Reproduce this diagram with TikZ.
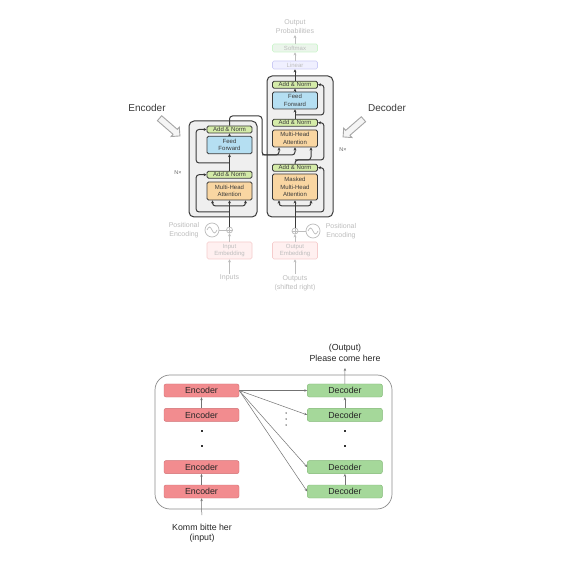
\documentclass[tikz,border=0pt]{standalone}
\usepackage{fontspec}
\setmainfont{Liberation Sans}
\usetikzlibrary{arrows.meta}
\usetikzlibrary{positioning}
\usetikzlibrary{shapes.arrows}

\definecolor{wire}{HTML}{3A3A3A}
\definecolor{normfill}{HTML}{D4EBA8}
\definecolor{fffill}{HTML}{B5DFF2}
\definecolor{attfill}{HTML}{F9D6A2}
\definecolor{blockfill}{HTML}{EFEFEF}
\definecolor{faded}{HTML}{BDBDBD}
\definecolor{encfill}{HTML}{F28C8F}
\definecolor{encline}{HTML}{D06E72}
\definecolor{decfill}{HTML}{A5D89A}
\definecolor{decline}{HTML}{7FB873}

\tikzset{
  sub/.style={draw=wire, line width=0.8pt, rounded corners=1.5pt, minimum width=45pt, inner sep=0pt, align=center, font=\fontsize{6}{7.5}\selectfont, text=wire},
  norm/.style={sub, fill=normfill, minimum height=7pt},
  ff/.style={sub, fill=fffill, minimum height=17.5pt},
  att/.style={sub, fill=attfill, minimum height=18pt},
  pale/.style={draw=#1!80!black!20, line width=0.7pt, rounded corners=1.5pt, minimum width=45pt, inner sep=0pt, align=center, font=\fontsize{6}{7.5}\selectfont, text=faded},
  wire/.style={draw=wire, line width=1pt, rounded corners=3pt, -{Stealth[length=3pt,width=3pt]}},
  fadedwire/.style={draw=faded, line width=0.7pt, -{Stealth[length=3pt,width=3pt]}},
  fadedtxt/.style={text=faded, align=center, font=\fontsize{7}{9}\selectfont, inner sep=1pt},
  block/.style={draw=wire, line width=1pt, fill=blockfill, rounded corners=5pt},
  hollow/.style={single arrow, draw=black!35, fill=black!4, line width=0.9pt, minimum height=27pt, inner sep=2.8pt, single arrow head extend=3pt},
  enc/.style={draw=encline, fill=encfill, rounded corners=2pt, minimum width=75pt, minimum height=13pt, inner sep=0pt, font=\fontsize{8.8}{10}\selectfont, text=black!85},
  dec/.style={enc, draw=decline, fill=decfill},
  arr/.style={draw=black!55, line width=0.5pt, -{Stealth[length=3pt,width=2.4pt]}},
  sq/.style={fill=black!80, minimum size=2.2pt, inner sep=0pt},
  dot/.style={circle, fill=black!70, minimum size=1.5pt, inner sep=0pt},
  lbl/.style={align=center, font=\fontsize{8.8}{10.5}\selectfont, text=black!85}
}

\begin{document}
\begin{tikzpicture}[x=1pt, y=-1pt, node distance=3pt]
    \fill[white] (0,0) rectangle (587,564);
    \useasboundingbox (0,0) rectangle (587,564);

    \draw[block] (189,121) rectangle (257,217);
    \draw[block] (267,76) rectangle (333,217);

    \node[att] (emha) at (229.5,191) {Multi-Head\\Attention};
    \node[norm, above=3pt of emha] (ean1) {Add \& Norm};
    \node[ff] (eff) at (229.5,145) {Feed\\Forward};
    \node[norm, above=2.5pt of eff] (ean2) {Add \& Norm};

    \node[att, minimum height=26pt] (dmmha) at (295,187) {Masked\\Multi-Head\\Attention};
    \node[norm, above=2pt of dmmha] (dan1) {Add \& Norm};
    \node[att, minimum height=17pt] (dmha) at (295,138.5) {Multi-Head\\Attention};
    \node[norm, above=3pt of dmha] (dan2) {Add \& Norm};
    \node[ff, minimum height=17pt] (dff) at (295,100.5) {Feed\\Forward};
    \node[norm, above=3pt of dff] (dan3) {Add \& Norm};
    \node[pale=blue, fill=blue!6, minimum height=8pt] (lin) at (295,65) {Linear};
    \node[pale=green, fill=green!50!black!8, minimum height=8pt] (soft) at (295,48) {Softmax};
    \node[fadedtxt] (prob) at (295,27) {Output\\Probabilities};

    \node[text=black!60, font=\fontsize{5.5}{6}\selectfont] (enx) at (178,173) {N×};
    \node[text=black!60, font=\fontsize{5.5}{6}\selectfont] (dnx) at (343,150) {N×};

    \node[text=wire, font=\fontsize{10}{12}\selectfont] (enclab) at (147,108) {Encoder};
    \node[text=wire, font=\fontsize{10}{12}\selectfont] (declab) at (387,108) {Decoder};
    \node[hollow, rotate=-41] (earr) at (168.5,126) {};
    \node[hollow, rotate=-139] (darr) at (354.5,127) {};

    \node[pale=red, fill=red!6, minimum height=17pt] (einp) at (229.5,250.5) {Input\\Embedding};
    \node[pale=red, fill=red!6, minimum height=17pt] (dinp) at (295,250.5) {Output\\Embedding};
    \node[fadedtxt] (inputs) at (229.5,278) {Inputs};
    \node[fadedtxt] (outputs) at (295,283) {Outputs\\(shifted right)};
    \node[circle, draw=faded, line width=0.7pt, minimum size=6pt, inner sep=0pt] (eadd) at (229.5,230) {};
    \node[circle, draw=faded, line width=0.7pt, minimum size=6pt, inner sep=0pt] (dadd) at (295,231) {};
    \node[circle, draw=faded, line width=0.7pt, minimum size=14pt, inner sep=0pt] (epos) at (212,230) {};
    \node[circle, draw=faded, line width=0.7pt, minimum size=14pt, inner sep=0pt] (dpos) at (313,231) {};
    \node[fadedtxt] (eposlab) at (184,230) {Positional\\Encoding};
    \node[fadedtxt] (dposlab) at (341,231) {Positional\\Encoding};
    \draw[faded, line width=0.7pt] (eadd.north) -- (eadd.south) (eadd.west) -- (eadd.east);
    \draw[faded, line width=0.7pt] (dadd.north) -- (dadd.south) (dadd.west) -- (dadd.east);
    \draw[faded, line width=0.7pt] ([xshift=-5pt]epos.center) sin ++(2.5pt,3pt) cos ++(2.5pt,-3pt) sin ++(2.5pt,-3pt) cos ++(2.5pt,3pt);
    \draw[faded, line width=0.7pt] ([xshift=-5pt]dpos.center) sin ++(2.5pt,3pt) cos ++(2.5pt,-3pt) sin ++(2.5pt,-3pt) cos ++(2.5pt,3pt);
    \draw[faded, line width=0.7pt] (epos) -- (eadd);
    \draw[faded, line width=0.7pt] (dpos) -- (dadd);
    \draw[fadedwire] (inputs) -- (einp);
    \draw[fadedwire] (outputs) -- (dinp);
    \draw[fadedwire] (einp) -- (eadd);
    \draw[fadedwire] (dinp) -- (dadd);
    \draw[fadedwire] (lin) -- (soft);
    \draw[fadedwire] (soft) -- (prob);

    \coordinate (eb1) at (229.5,212);
    \coordinate (eb2) at (229.5,206);
    \coordinate (eb3) at (229.5,163);
    \coordinate (ec1) at (262,116);
    \coordinate (ec2) at (262,155);
    \draw[wire] (eadd) -- (emha);
    \draw[wire] (eb2) -| ([xshift=-17pt]emha.south);
    \draw[wire] (eb2) -| ([xshift=16pt]emha.south);
    \draw[wire] (eb1) -| ([xshift=-10.5pt]ean1.west) -- (ean1.west);
    \draw[wire] (ean1) -- (eff);
    \draw[wire] (eb3) -| ([xshift=-10.5pt]ean2.west) -- (ean2.west);
    \draw[wire] (eff) -- (ean2);
    \draw[wire] (ean2.north) |- (ec1) -- (ec2) -| ([xshift=-16pt]dmha.south);
    \draw[wire] (ec2) -| (dmha.south);

    \coordinate (db1) at (295,212);
    \coordinate (db2) at (295,206);
    \coordinate (db3) at (295,160);
    \coordinate (db4) at (295,115);
    \draw[wire] (dadd) -- (dmmha);
    \draw[wire] (db2) -| ([xshift=-16pt]dmmha.south);
    \draw[wire] (db2) -| ([xshift=16pt]dmmha.south);
    \draw[wire] (db1) -| ([xshift=6pt]dan1.east) -- (dan1.east);
    \draw[wire] (dan1.north) -- (db3) -| ([xshift=16pt]dmha.south);
    \draw[wire] (db3) -| ([xshift=6pt]dan2.east) -- (dan2.east);
    \draw[wire] (dan2) -- (dff);
    \draw[wire] (db4) -| ([xshift=6pt]dan3.east) -- (dan3.east);
    \draw[wire] (dff) -- (dan3);
    \draw[wire] (dan3) -- (lin);

    \draw[draw=black!45, line width=0.7pt, rounded corners=15pt] (155,375) rectangle (392,509);
    \node[enc] (e1) at (201.5,390.5) {Encoder};
    \node[enc, below=11pt of e1] (e2) {Encoder};
    \node[enc] (e4) at (201.5,491.5) {Encoder};
    \node[enc, above=11pt of e4] (e3) {Encoder};
    \node[dec, right=68pt of e1] (d1) {Decoder};
    \node[dec, right=68pt of e2] (d2) {Decoder};
    \node[dec, right=68pt of e3] (d3) {Decoder};
    \node[dec, right=68pt of e4] (d4) {Decoder};
    \node[sq] (es1) at (202,431) {};
    \node[sq] (es2) at (202,446) {};
    \node[sq] (ds1) at (345,431) {};
    \node[sq] (ds2) at (345,446) {};
    \node[dot] (m1) at (286,413) {};
    \node[dot] (m2) at (286,419) {};
    \node[dot] (m3) at (286,425) {};
    \node[lbl] (inp) at (202,533) {Komm bitte her\\(input)};
    \node[lbl] (outp) at (345,353) {(Output)\\Please come here};

    \draw[arr] (e2) -- (e1);
    \draw[arr] (e4) -- (e3);
    \draw[arr] (d2) -- (d1);
    \draw[arr] (d4) -- (d3);
    \foreach \d in {d1,d2,d3,d4}
        \draw[arr] (e1.east) -- (\d.west);
    \draw[arr, shorten <=5pt] (inp) -- (e4);
    \draw[arr, shorten >=3pt] (d1) -- (outp);
\end{tikzpicture}
\end{document}
